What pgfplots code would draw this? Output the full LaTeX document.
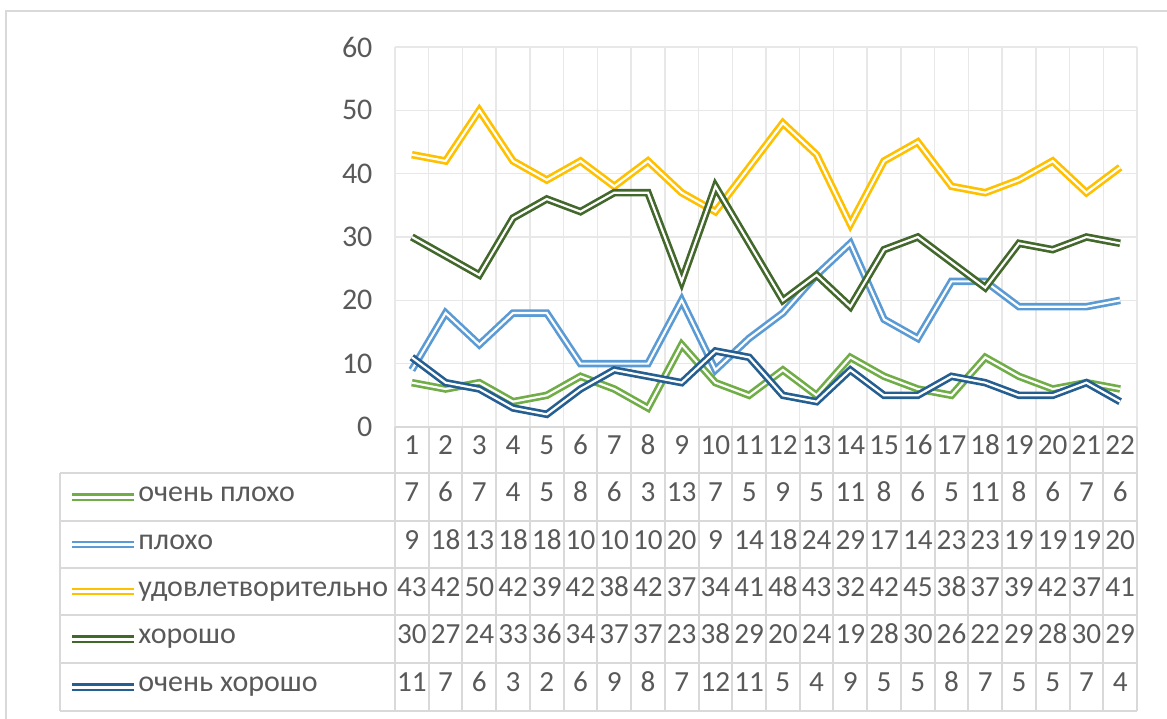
\documentclass[border=0pt]{standalone}
\usepackage{pgfplots}
\pgfplotsset{compat=1.18}
\usepackage{pgfplotstable}
\usepackage{fontspec}
\setmainfont{Carlito}
\definecolor{cVP}{HTML}{70AD47}
\definecolor{cP}{HTML}{5B9BD5}
\definecolor{cU}{HTML}{FFC000}
\definecolor{cH}{HTML}{43682B}
\definecolor{cVH}{HTML}{255E91}
\definecolor{txt}{HTML}{595959}
\definecolor{tgrid}{HTML}{D9D9D9}
\definecolor{lgrid}{HTML}{E8E8E8}

\pgfplotstableread{
x vp p u h vh
1 7 9 43 30 11
2 6 18 42 27 7
3 7 13 50 24 6
4 4 18 42 33 3
5 5 18 39 36 2
6 8 10 42 34 6
7 6 10 38 37 9
8 3 10 42 37 8
9 13 20 37 23 7
10 7 9 34 38 12
11 5 14 41 29 11
12 9 18 48 20 5
13 5 24 43 24 4
14 11 29 32 19 9
15 8 17 42 28 5
16 6 14 45 30 5
17 5 23 38 26 8
18 11 23 37 22 7
19 8 19 39 29 5
20 6 19 42 28 5
21 7 19 37 30 7
22 6 20 41 29 4
}\data

\begin{document}
\begin{tikzpicture}[x=0.6pt,y=-0.6pt]
\path[use as bounding box] (0,0) rectangle (1167,719);
\draw[tgrid, line width=1.3pt] (6,719) -- (6,11) -- (1167,11);

\begin{axis}[
  at={(237pt,-256.2pt)}, anchor=south west,
  scale only axis, width=445.2pt, height=228pt,
  xmin=0.5, xmax=22.5, ymin=0, ymax=60,
  xtick={0.5,1.5,...,22.5}, xticklabels={},
  ytick={0,10,...,60},
  grid=major, grid style={lgrid, line width=0.9pt},
  axis line style={draw=none},
  major tick length=0pt,
  yticklabel style={text=txt, font=\fontsize{18}{20}\selectfont, xshift=-10pt,
    /pgf/number format/assume math mode=true},
  every axis plot/.append style={line width=1.6pt, double=white, double distance=1.3pt, mark=none},
]
\addplot[cVP] table[x=x,y=vp]\data;
\addplot[cP] table[x=x,y=p]\data;
\addplot[cU] table[x=x,y=u]\data;
\addplot[cH] table[x=x,y=h]\data;
\addplot[cVH] table[x=x,y=vh]\data;
\end{axis}

% data table grid
\begin{scope}[tgrid, line width=1.2pt]
\draw (395,427) -- (1137,427);
\foreach \yy in {473,521,568,615,663,711} \draw (60,\yy) -- (1137,\yy);
\draw (60,473) -- (60,711);
\foreach \k in {0,...,22} {
  \pgfmathsetmacro\xx{395+\k*742/22}
  \draw (\xx,427) -- (\xx,711);
}
\end{scope}

\begin{scope}[every node/.style={text=txt, font=\fontsize{17.5}{20}\selectfont, text height=1.6ex, text depth=0.35ex, inner sep=0pt}]
\foreach \r in {0,...,21} {
  \pgfmathsetmacro\xx{395+(\r+0.5)*742/22}
  \pgfplotstablegetelem{\r}{x}\of\data
  \node at (\xx,450) {\pgfplotsretval};
}
\foreach \col/\yy in {vp/497, p/544.5, u/591.5, h/639, vh/687} {
  \foreach \r in {0,...,21} {
    \pgfmathsetmacro\xx{395+(\r+0.5)*742/22}
    \pgfplotstablegetelem{\r}{\col}\of\data
    \node at (\xx,\yy) {\pgfplotsretval};
  }
}
\foreach \cc/\yy/\lab in {cVP/497/очень плохо, cP/544.5/плохо, cU/591.5/удовлетворительно, cH/639/хорошо, cVH/687/очень хорошо} {
  \draw[\cc, line width=1.4pt, double=white, double distance=1.8pt] (72,\yy) -- (134,\yy);
  \node[anchor=west, font=\fontsize{18}{20}\selectfont] at (138,\yy) {\lab};
}
\end{scope}
\end{tikzpicture}
\end{document}
